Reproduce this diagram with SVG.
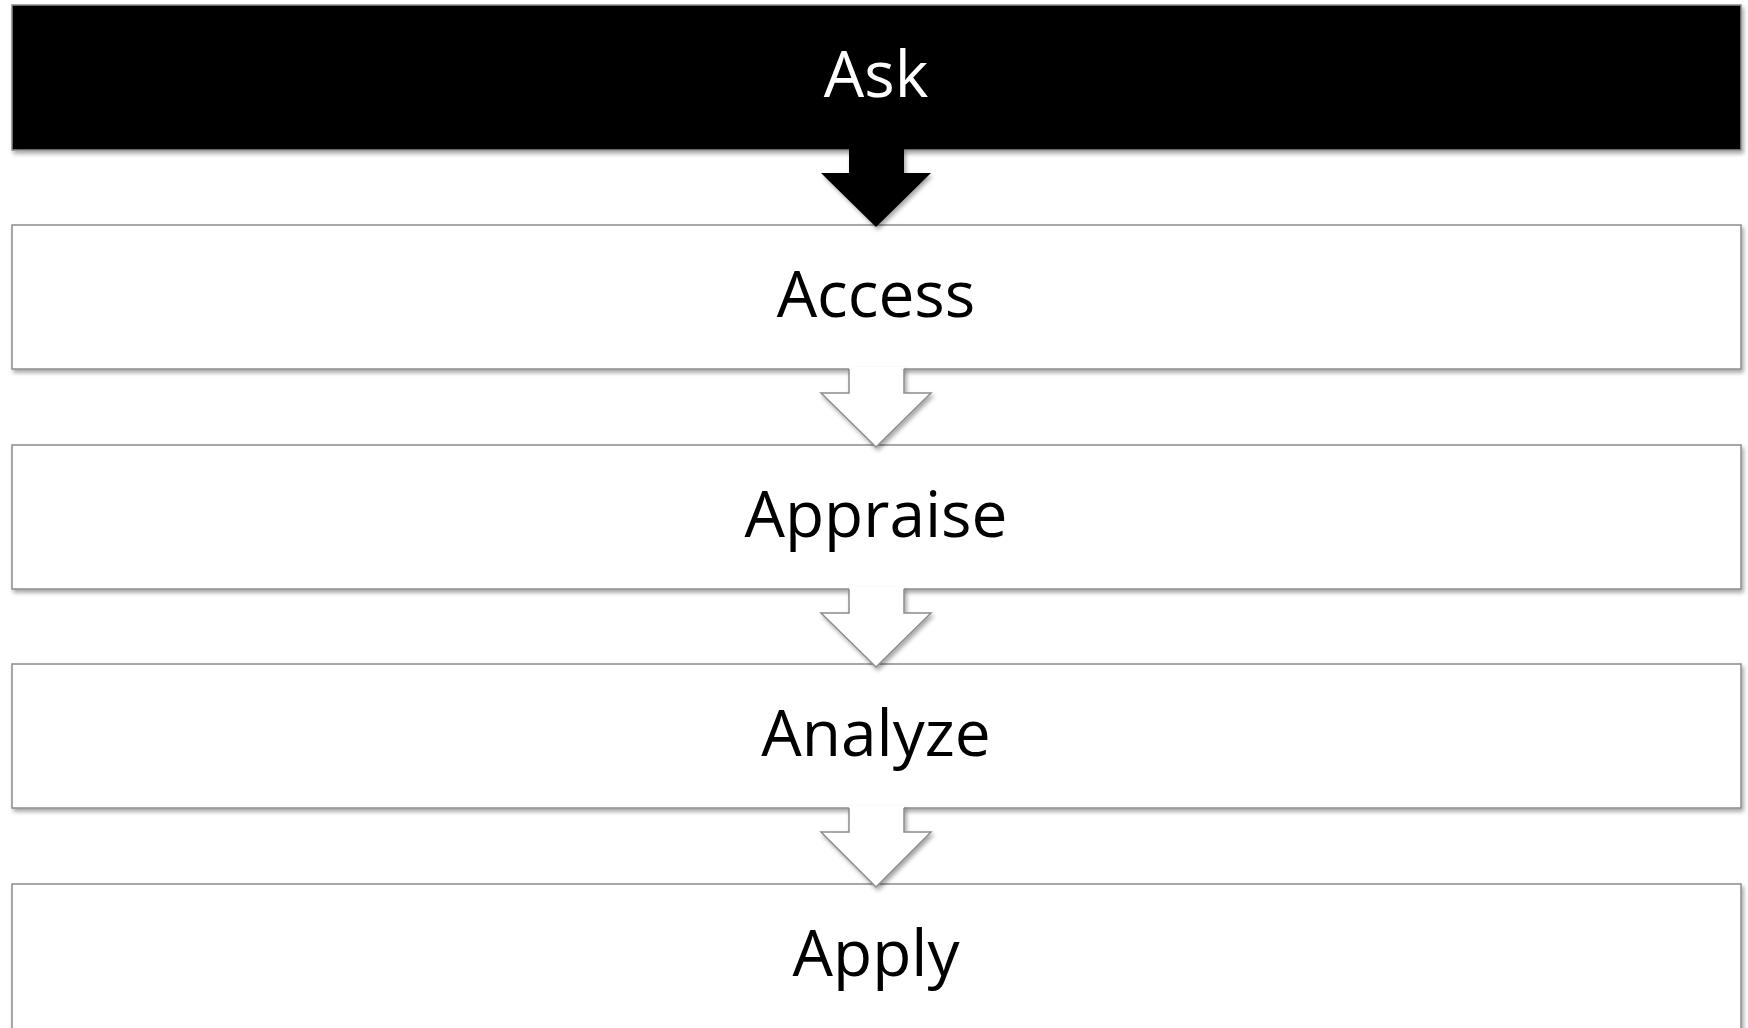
<svg xmlns="http://www.w3.org/2000/svg" width="1748" height="1028" viewBox="0 0 1748 1028">
  <style>
    .box { fill: #ffffff; stroke: #8c8c8c; stroke-width: 1.5; }
    .box-dark { fill: #000000; stroke: #8c8c8c; stroke-width: 1.5; }
    .label { font-family: "Open Sans", "Liberation Sans", sans-serif; font-size: 64px; text-anchor: middle; fill: #000000; }
    .label-light { fill: #ffffff; }
    .arrow-fill { fill: #ffffff; stroke: none; }
    .arrow-line { fill: none; stroke: #8c8c8c; stroke-width: 1.5; stroke-linejoin: miter; }
    .arrow-dark { fill: #000000; stroke: none; }
  </style>
  <defs>
    <filter id="shadow" x="-5%" y="-20%" width="110%" height="150%">
      <feDropShadow dx="2" dy="3" stdDeviation="2" flood-color="#000000" flood-opacity="0.35"/>
    </filter>
  </defs>

  <rect width="1748" height="1028" fill="#ffffff"/>

  <g id="node-ask" filter="url(#shadow)">
    <rect class="box-dark" x="12" y="5" width="1729" height="145"/>
    <text class="label label-light" x="876" y="97">Ask</text>
  </g>
  <g id="node-access" filter="url(#shadow)">
    <rect class="box" x="12" y="225" width="1729" height="144"/>
    <text class="label" x="876" y="317">Access</text>
  </g>
  <g id="node-appraise" filter="url(#shadow)">
    <rect class="box" x="12" y="445" width="1729" height="144"/>
    <text class="label" x="876" y="537">Appraise</text>
  </g>
  <g id="node-analyze" filter="url(#shadow)">
    <rect class="box" x="12" y="664" width="1729" height="144"/>
    <text class="label" x="876" y="756">Analyze</text>
  </g>
  <g id="node-apply" filter="url(#shadow)">
    <rect class="box" x="12" y="884" width="1729" height="160"/>
    <text class="label" x="876" y="976">Apply</text>
  </g>

  <g id="connectors">
    <g filter="url(#shadow)">
      <polygon class="arrow-dark" points="849,148 904,148 904,173 931,173 876,227 821,173 849,173"/>
    </g>
    <g filter="url(#shadow)">
      <polygon class="arrow-fill" points="849,367 904,367 904,393 931,393 876,447 821,393 849,393"/>
      <polyline class="arrow-line" points="849,369 849,393 821,393 876,447 931,393 904,393 904,369"/>
    </g>
    <g filter="url(#shadow)">
      <polygon class="arrow-fill" points="849,587 904,587 904,613 931,613 876,667 821,613 849,613"/>
      <polyline class="arrow-line" points="849,589 849,613 821,613 876,667 931,613 904,613 904,589"/>
    </g>
    <g filter="url(#shadow)">
      <polygon class="arrow-fill" points="849,806 904,806 904,832 931,832 876,887 821,832 849,832"/>
      <polyline class="arrow-line" points="849,808 849,832 821,832 876,887 931,832 904,832 904,808"/>
    </g>
  </g>
</svg>
